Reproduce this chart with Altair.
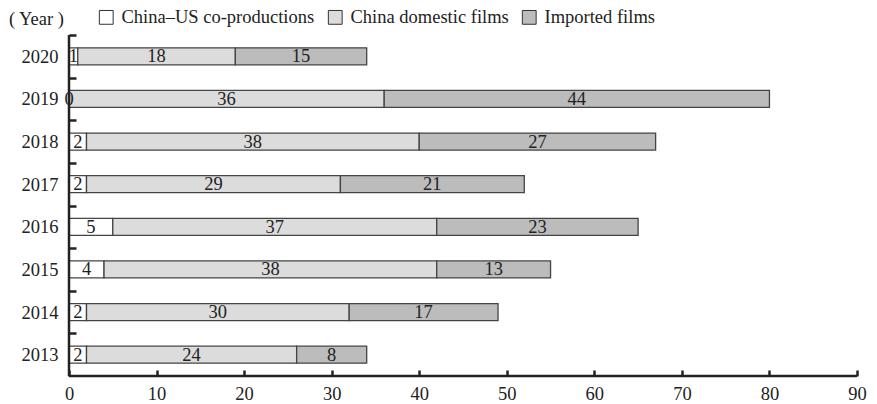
import altair as alt
import pandas as pd

years = ["2020", "2019", "2018", "2017", "2016", "2015", "2014", "2013"]
coprod = [1, 0, 2, 2, 5, 4, 2, 2]
domestic = [18, 36, 38, 29, 37, 38, 30, 24]
imported = [15, 44, 27, 21, 23, 13, 17, 8]
series = ["China\u2013US co-productions", "China domestic films", "Imported films"]
colors = ["#ffffff", "#dcdcdc", "#bcbcbc"]
x_ticks = [0, 10, 20, 30, 40, 50, 60, 70, 80, 90]

rows = []
for i, yr in enumerate(years):
    for k, (s, vals) in enumerate(zip(series, [coprod, domestic, imported])):
        rows.append({"year": yr, "series": s, "order": k, "value": vals[i]})
df = pd.DataFrame(rows)

FONT = "Liberation Serif"
INK = "#222222"
FS = 18.5
H = 341
STEP = H / len(years)

base = alt.Chart(df).transform_stack(
    stack="value", groupby=["year"], sort=[alt.SortField("order")], as_=["x0", "x1"]
).transform_calculate(mid="(datum.x0 + datum.x1) / 2")

yenc = alt.Y(
    "year:N", sort=years,
    scale=alt.Scale(paddingInner=0.6, paddingOuter=0.3),
    axis=alt.Axis(
        title="( Year )", titleAngle=0, titleAlign="center", titleBaseline="middle",
        titleX=-40, titleY=-17, titleFont=FONT, titleFontSize=FS, titleFontWeight="normal",
        titleColor=INK,
        domain=False, ticks=True, tickSize=7, offset=-7,
        tickOffset=-STEP / 2, labelOffset=STEP / 2,
        tickColor=INK, tickWidth=2.5,
        labelPadding=11, labelFontSize=FS, labelFont=FONT, labelColor=INK,
    ),
)

xscale = alt.Scale(domain=[0, 90], nice=False)

bars = base.mark_bar(stroke="#444444", strokeWidth=1.3).encode(
    x=alt.X("x0:Q", scale=xscale, axis=alt.Axis(
        values=x_ticks, title=None, domain=False, grid=False, tickSize=6, offset=-6,
        tickColor=INK, tickWidth=2.5, labelPadding=8, labelFontSize=FS, labelFont=FONT,
        labelColor=INK, labelFlush=False)),
    x2="x1:Q",
    y=yenc,
    fill=alt.Fill("series:N", sort=series, scale=alt.Scale(domain=series, range=colors),
                  legend=alt.Legend(
                      orient="none", legendX=28, legendY=-27, direction="horizontal",
                      title=None, symbolType="square", symbolSize=190,
                      symbolStrokeColor="#333333", symbolStrokeWidth=1,
                      labelFontSize=FS, labelFont=FONT, labelColor=INK,
                      columnPadding=11, labelOffset=6, labelLimit=400)),
    order=alt.Order("order:Q"),
)

texts = base.mark_text(font=FONT, fontSize=FS, color=INK, baseline="middle").encode(
    x=alt.X("mid:Q", scale=xscale),
    y=yenc,
    text="value:Q",
)

vline = alt.Chart(pd.DataFrame({"v": [0]})).mark_rule(color=INK, strokeWidth=2.5).encode(
    x=alt.X("v:Q", scale=xscale)
)
hline = alt.Chart(pd.DataFrame({"v": [0]})).mark_rule(color=INK, strokeWidth=2.5).encode(
    y=alt.value({"expr": "height"})
)

chart = alt.layer(bars, texts, vline, hline).properties(
    width=788, height=H,
    autosize=alt.AutoSizeParams(type="none"),
    padding={"left": 61, "top": 27, "right": 12, "bottom": 28},
).configure_view(stroke=None)

chart.save("out.html", embed_options={"renderer": "svg", "actions": False})
